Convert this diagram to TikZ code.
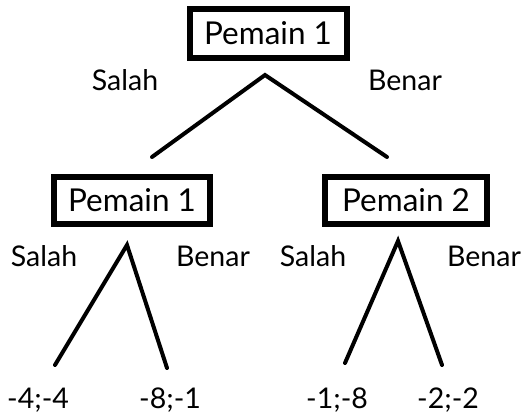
\documentclass[tikz,border=0pt]{standalone}
\usepackage{fontspec}
\setmainfont{Lato}
\begin{document}
\begin{tikzpicture}[x=1pt,y=-1pt,
  player/.style={draw,line width=6pt,inner sep=0pt,minimum height=47pt,font=\fontsize{31.5}{33}\selectfont},
  lbl/.style={font=\fontsize{28.5}{30}\selectfont,inner sep=0pt},
  edge/.style={line width=4pt,line cap=round}]
\useasboundingbox (0,0) rectangle (526,413);
\node[player,minimum width=157pt,minimum height=49pt] (p1) at (268,33) {Pemain 1};
\node[player,minimum width=156pt] (p1b) at (132,200) {Pemain 1};
\node[player,minimum width=162pt] (p2) at (406,200) {Pemain 2};
\coordinate (a0) at (265,75);
\coordinate (a0l) at (152,157);
\coordinate (a0r) at (387,157);
\draw[edge] (a0l) -- (a0) -- (a0r);
\node[lbl] (s0) at (125,80) {Salah};
\node[lbl] (b0) at (405,80) {Benar};
\coordinate (a1) at (127,245);
\coordinate (a1l) at (55,365);
\coordinate (a1r) at (167,368);
\draw[edge] (a1l) -- (a1) -- (a1r);
\coordinate (a2) at (398,241);
\coordinate (a2l) at (345,363);
\coordinate (a2r) at (442,365);
\draw[edge] (a2l) -- (a2) -- (a2r);
\node[lbl] (s1) at (44,256) {Salah};
\node[lbl] (b1) at (213,256) {Benar};
\node[lbl] (s2) at (313,256) {Salah};
\node[lbl] (b2) at (484,256) {Benar};
\node[lbl] (l1) at (38,400) {-4;-4};
\node[lbl] (l2) at (170,400) {-8;-1};
\node[lbl] (l3) at (337,400) {-1;-8};
\node[lbl] (l4) at (448,400) {-2;-2};
\end{tikzpicture}
\end{document}
